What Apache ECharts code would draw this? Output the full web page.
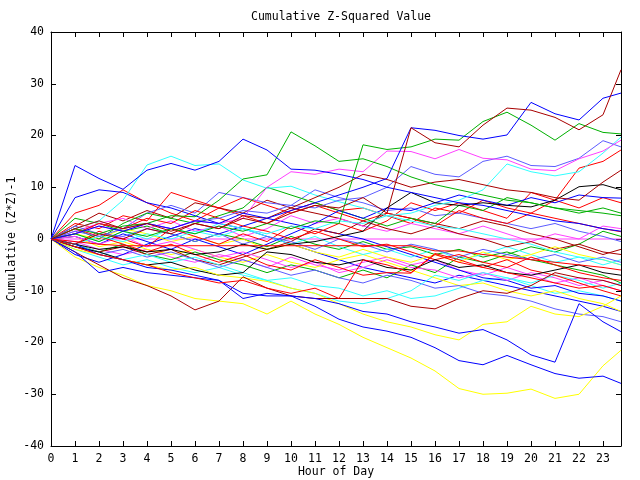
<!DOCTYPE html>
<html>
<head>
<meta charset="utf-8">
<script src="https://cdn.jsdelivr.net/npm/echarts@6/dist/echarts.min.js"></script>
<style>
html,body{margin:0;padding:0;background:#fff;}
#chart{width:640px;height:480px;}
</style>
</head>
<body>
<div id="chart"></div>
<script>
// Hour positions of the samples (hourly, last sample at 23.75)
const hours = [0,1,2,3,4,5,6,7,8,9,10,11,12,13,14,15,16,17,18,19,20,21,22,23,23.75];
const xTickLabels = ['0','1','2','3','4','5','6','7','8','9','10','11','12','13','14','15','16','17','18','19','20','21','22','23'];

// Series values (cumulative (Z*Z)-1)
const blueA   = [0,14.2,11.7,9.6,13.3,14.6,13.3,15,19.3,17.2,13.5,13.3,12.5,11.5,10,9,8,7,6.5,5.5,4.5,3.5,3,2,1.5];
const blueB   = [0,1,2.5,1.5,3,2,3.5,3,5,4,5.5,7,8.5,10,11.7,21.5,21,20,19.3,20.1,26.4,24.2,23,27.2,28.2];
const greenC  = [0,2,1,2.5,3,4.5,4.3,7.5,11.6,12.4,20.7,18,15,15.5,14,12,10.5,9.5,8.5,7.5,7,6,5.5,5,4.5];
const greenD  = [0,1,-0.5,1.5,0.5,2,1,2.5,1.5,3,2,3.5,3,18.2,17.3,17.8,19.3,19.1,22.7,24.5,22,19.1,22.3,20.6,20.3];
const brownE  = [0,2,3.5,2,3,1.5,3,2,4,3,5,6.5,6,8,5,21.5,18.6,17.8,22,25.3,24.9,23.5,21.1,24,32.7];
const brownF  = [0,-1,1,0,2,1,3,2,4.5,4,6,8,10,12.5,11.5,10,11,11.5,10.5,9.5,9,8,7.5,11,13.3];
const magentaG= [0,1,2.5,1.5,3,2,3.5,3,4,10,13,12.5,13.5,13,17,16.9,15.5,17.3,15.6,15.3,13.5,13.2,15.5,17,19.1];
const cyanH   = [0,2,3.5,7.5,14.3,16,14.2,14.5,11.4,9.8,10.2,8.5,7.2,6,4.5,3.5,2.5,2,1,0,-1,-2.5,-3.5,-4,-5];
const cyanI   = [0,-1,0.5,-0.5,1,0,1.5,0.5,2,1,2.5,2,3.5,3,4.5,5,6.5,7.5,9.5,14.5,13,12.2,13,16.6,19.7];
const slateJ  = [0,1.5,0.5,2,3,2,3.5,4,5.5,5,6.5,6,7.5,8,10,14,12.5,12,15,16,14.2,14,15.6,19,17.8];
const blackK  = [0,-1,-2,-1.5,-2.5,-2,-3,-2.5,-1,-2,-1,-0.5,0.5,1.5,6,9,7,6.5,7,6.5,6.2,7.5,10.1,10.5,9.5];
const blackL  = [0,-1.5,-2.5,-4,-5,-4.5,-6,-7,-6.5,-2.5,-3,-4.5,-5,-4,-5.5,-6,-4,-5.5,-5,-6.5,-7,-6,-5,-6.5,-7];
const redFlat = [0,-0.5,-1,-1.3,-1.3,-1.3,-1.3,-1.3,-1.3,-1.3,-1.3,-1.3,-1.3,-1.3,-1.3,-1.3,-2.3,-2.3,-3,-3.5,-4,-4.5,-5,-5.5,-6];
const magentaZero = [0,0,0,0,0,0,0,0,0,0,0,0,0,0,0,0,0,0,0,0,0,0,0,0,0];
const redK2   = [0,-1.5,-3,-4,-5,-6.5,-7.5,-8.5,-8,-9.5,-10.5,-9.5,-11.5,-4,-5,-6.5,-3,-4.5,-5.5,-6.5,-7.5,-8.5,-9.5,-9,-10];
const yellowLow = [0,-3.5,-5.5,-7,-9,-10,-11.5,-12,-12.5,-14.5,-12,-14.5,-16.5,-19,-21,-23,-25.5,-28.9,-30,-29.8,-29,-30.8,-30,-24.5,-21.5];
const yellowMid = [0,-2,-3,-4,-5,-6,-5.5,-7,-7.5,-8.2,-9.5,-10.5,-12.5,-14.5,-16,-17,-18.5,-19.5,-16.5,-16,-13,-14.5,-15,-13,-11];
const blueH   = [0,-1,-3,-4,-5.5,-6,-7,-8,-11.5,-10.5,-11,-11.5,-12.5,-14,-14.5,-16,-17,-18.2,-17.5,-19.5,-22.4,-23.8,-12.5,-16,-17.9];
const blueI   = [0,-2.5,-6.5,-5.5,-6.5,-7,-7.5,-8,-10.5,-11,-11,-13,-15.5,-17,-17.8,-19,-21,-23.5,-24.3,-22.5,-24.3,-26,-26.9,-26.5,-27.9];
const brownJ  = [0,-2.5,-5,-7.5,-9,-11,-13.7,-12,-7.3,-9.5,-11,-11.5,-11.5,-11.5,-11.5,-13,-13.5,-11.5,-10,-10.5,-9,-6.5,-7.5,-8,-9];
const red1 = [0,5,6.5,9.5,7,5,3.5,6,4.5,3,5.5,7,5.5,6,4.5,3,6,5,7.5,6,5,7.5,13.7,15,17.2];
const red2 = [0,3,2,4.5,3.5,9,7.5,6,8,6.5,5,6.5,5,3.5,5,4,2.5,5.5,4,3,5,4,3,2,1.4];
const red3 = [0,-1,1.5,0,-1.5,2,0.5,-1,1,-0.5,2.5,1,3,1.5,3.5,7,5.5,7,5.5,4,9,7.5,6,8,7];
const red4 = [0,2,0.5,-1,-2.5,-1,-3,-4.5,-3,-5,-6,-4,-5.5,-7,-6.5,-6.6,-2.8,-4,-5.5,-4,-6,-7,-8.5,-10,-11];
const red5 = [0,1,3,2,4,3,5.5,4,2.5,1.5,0,1.5,0,-1.5,-1,-2.5,-4,-3,-4.5,-5.5,-3.5,-5,-6.5,-7.5,-8];
const green1 = [0,4,3,1.5,2.5,1,-0.5,1,0,-1.5,0.5,-1,-2,-0.5,-2,-1.5,-3,-2,-3.5,-2.5,-4,-5,-6,-7,-8.5];
const green2 = [0,-1.5,-2.5,-1,-3,-4,-2.5,-4,-5,-6.5,-5,-6,-7.5,-6,-7.5,-5,-6.5,-3.5,-4.5,-3,-1.5,-2.5,-1,1.5,0.5];
const green3 = [0,2,0,3,5,4,3,4.5,6,10,8.5,7,5.5,4,2.5,4,3,6.5,5.5,8,7,6,5,6,5];
const blue1 = [0,8,9.5,9,7,6,4.5,3,2,0.5,-1,-2.5,-4,-5.5,-6.5,-7.5,-8.5,-7,-8,-9,-10,-11,-12,-13,-14];
const blue2 = [0,-3,-4.5,-3,-1,0.5,2,1,2.5,4,3,2,1,0,-1.5,-3,-4.5,-6,-7.5,-8,-9.5,-9,-10.5,-11,-12];
const blue3 = [0,0.5,-1,1,-0.5,-2,0,-1.5,-3,-1,1,3,5.5,4,6,5.5,7,8.5,7.5,6.5,8,7,8.5,8,7.9];
const magenta1 = [0,-0.5,-2,-3,-2,-3.5,-4.5,-3,-4,-5.5,-3.5,-5,-6,-4.5,-3.5,-5,-4,-6,-7,-5.5,-7,-8.5,-7.5,-9,-10];
const magenta2 = [0,1.5,3,4,2,3.5,1.5,2.5,0.5,2,4.5,3,4,2.5,1.5,3,2,1,2.5,1,-0.5,1,0,2.5,2];
const magenta3 = [0,0.5,-1,0.5,-1.5,-0.5,-2,-3.5,-2.5,-4,-5.5,-4.5,-6.5,-5.5,-4,-5.5,-6,-7.5,-6.5,-8,-6.5,-7.5,-9,-8,-9];
const cyan1 = [0,-2,-3.5,-5,-4,-5.5,-6.5,-5.5,-7,-8,-7.5,-9,-9.5,-11,-10,-11.5,-11,-9.5,-8,-7.5,-9,-10.5,-10,-11,-12];
const cyan2 = [0,1,-0.5,1.5,0,2,1,3,2,0.5,-1,0.5,-1.5,-3,-2,-3.5,-2,-4,-3,-1.5,-3,-4.5,-3.5,-5,-4];
const cyan3 = [0,-1,-2.5,-4,-3,-4.5,-3.5,-5,-6.5,-8,-9.5,-10.5,-12,-12.5,-11.5,-10,-7,-8,-6.5,-7.5,-8.5,-7,-8,-9.5,-8.5];
const brown1 = [0,2.5,5,3.5,5.5,4,7,6,5,7.5,6,5,4,2.5,5,4,3,2,3.5,2.5,1,0,-1.5,-3,-2];
const brown2 = [0,-1,-2.5,-1.5,-3,-2,-4,-5,-3.5,-2,-0.5,2,1,3.5,2,1,2.5,1,0,-1.5,-0.5,-2,-1,-2.5,-3];
const yellow1 = [0,0.5,-1.5,-0.5,-2,-3,-2,-3.5,-4.5,-3,-4.5,-5.5,-4,-3,-4.5,-6,-7.5,-9,-8.5,-10,-11,-10,-11.5,-12.5,-14];
const yellow2 = [0,1,0,2,1,-0.5,0.5,-1,0,-2,-1,-2.5,-3.5,-2,-3.5,-4.5,-3,-4.5,-2.5,-4,-3,-1.5,-3,-4,-5];
const slate1 = [0,1,3,2,5,6.5,5,9,8,7,6.5,9.5,8,7,5.5,6,4.5,5,4,3,2,3,1.5,0.5,-0.5];
const slate2 = [0,-1.5,-3,-2,-3.5,-2.5,-4,-5.5,-4,-5.5,-7,-6,-7.5,-8.5,-7,-8,-9.5,-9,-10.5,-11,-12,-13.5,-14.5,-15,-16];
const slate3 = [0,2.5,1,0.5,2,1,-0.5,1,-1,0.5,-0.5,-2,0,-1,-2.5,-1,-2,-3.5,-2,-3,-4,-3,-4.5,-3.5,-4.5];

const C = {
  red:'#ff0000', green:'#00b000', blue:'#0000ff', magenta:'#ff40ff',
  cyan:'#30ffff', brown:'#a80000', yellow:'#ffff00', black:'#000000', slate:'#5c5cff'
};

const defs = [
  [magentaZero,C.magenta],
  [red1,C.red],[green1,C.green],[blue1,C.blue],[magenta1,C.magenta],[cyan1,C.cyan],[brown1,C.brown],[yellow1,C.yellow],[slate1,C.slate],
  [red2,C.red],[green2,C.green],[blue2,C.blue],[magenta2,C.magenta],[cyan2,C.cyan],[brown2,C.brown],[yellow2,C.yellow],[slate2,C.slate],
  [red3,C.red],[green3,C.green],[blue3,C.blue],[magenta3,C.magenta],[cyan3,C.cyan],[slate3,C.slate],
  [red4,C.red],[red5,C.red],
  [blackL,C.black],[blackK,C.black],
  [yellowMid,C.yellow],[yellowLow,C.yellow],
  [brownJ,C.brown],[blueH,C.blue],[blueI,C.blue],[redK2,C.red],
  [cyanH,C.cyan],[cyanI,C.cyan],[slateJ,C.slate],[magentaG,C.magenta],
  [brownF,C.brown],[greenC,C.green],[greenD,C.green],[redFlat,C.red],
  [blueA,C.blue],[blueB,C.blue],[brownE,C.brown]
];

const FONT = 'DejaVu Sans Mono';
const FS = 11.5;

const series = defs.map(function(d){
  return {
    type:'line', xAxisIndex:0, yAxisIndex:0,
    data: hours.map(function(h,i){ return [h, d[0][i]]; }),
    symbol:'none', silent:true, z: 2,
    lineStyle:{width:1, color:d[1]}, itemStyle:{color:d[1]}
  };
});

const axisCommonX = {
  type:'value', min:0, max:23.75, interval:1,
  axisLine:{show:true, onZero:false, lineStyle:{color:'#000', width:1}},
  axisTick:{show:true, inside:true, length:5, lineStyle:{color:'#000'}},
  splitLine:{show:false}
};
const axisCommonY = {
  type:'value', min:-40, max:40, interval:10,
  axisLine:{show:true, onZero:false, lineStyle:{color:'#000', width:1}},
  axisTick:{show:true, inside:true, length:5, lineStyle:{color:'#000'}},
  splitLine:{show:false}
};

const chart = echarts.init(document.getElementById('chart'), null, {renderer:'canvas'});
chart.setOption({
  animation:false,
  backgroundColor:'#ffffff',
  title:{
    text:'Cumulative Z-Squared Value', left:336, top:6, textAlign:'center',
    textStyle:{fontFamily:FONT, fontSize:FS, fontWeight:'normal', color:'#000'}
  },
  grid:{left:51, right:19, top:32, bottom:34, show:false, containLabel:false, outerBoundsMode:'none'},
  xAxis:[
    Object.assign({}, axisCommonX, {
      position:'bottom',
      name:'Hour of Day', nameLocation:'middle', nameGap:20, nameMoveOverlap:false,
      nameTextStyle:{fontFamily:FONT, fontSize:FS, color:'#000'},
      axisLabel:{show:true, margin:7, fontFamily:FONT, fontSize:FS, color:'#000',
        showMaxLabel:false,
        formatter:function(v){ var i = Math.round(v); return (Math.abs(v - i) < 1e-6 && xTickLabels[i] !== undefined) ? xTickLabels[i] : ''; }}
    }),
    Object.assign({}, axisCommonX, {position:'top', axisLabel:{show:false}})
  ],
  yAxis:[
    Object.assign({}, axisCommonY, {
      position:'left',
      name:'Cumulative (Z*Z)-1', nameLocation:'middle', nameGap:33, nameRotate:90, nameMoveOverlap:false,
      nameTextStyle:{fontFamily:FONT, fontSize:FS, color:'#000'},
      axisLabel:{show:true, margin:7, fontFamily:FONT, fontSize:FS, color:'#000'}
    }),
    Object.assign({}, axisCommonY, {position:'right', axisLabel:{show:false}})
  ],
  series: series
});
</script>
</body>
</html>
